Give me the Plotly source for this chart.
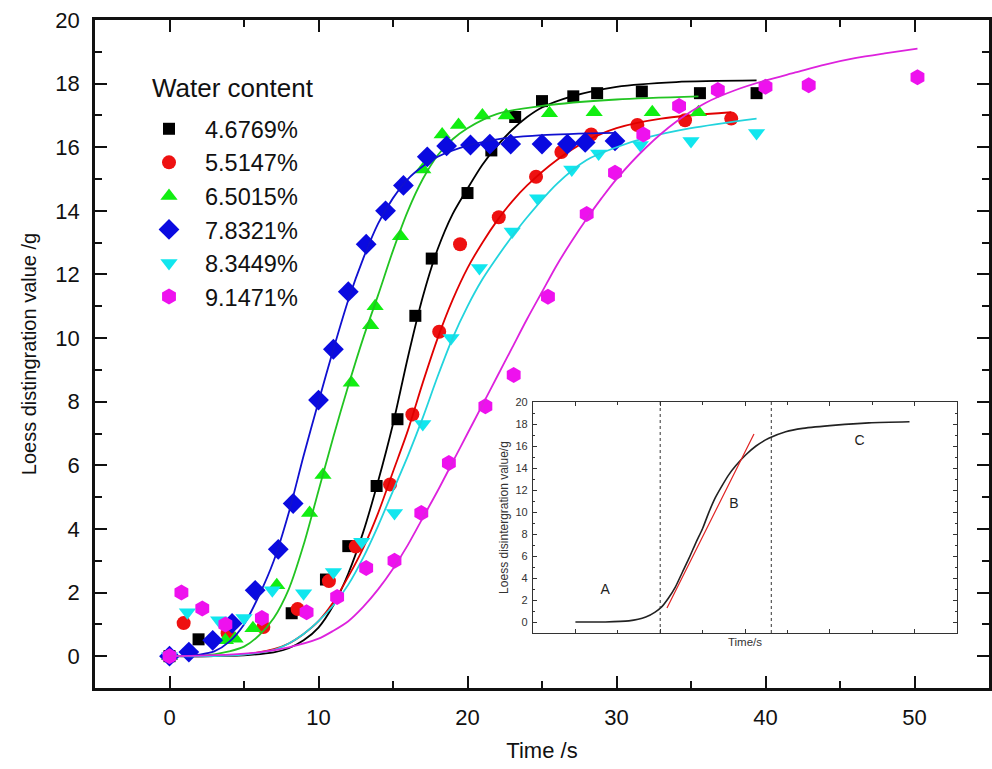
import plotly.graph_objects as go

# ---------------- data ----------------
series_names = ["4.6769%", "5.5147%", "6.5015%", "7.8321%", "8.3449%", "9.1471%"]
legend_title = "Water content"

black_x = [0, 1.95, 8.2, 10.5, 12.0, 13.9, 15.3, 16.5, 17.6, 20.0, 21.6, 23.2, 25.0, 27.1, 28.7, 31.7, 35.6, 39.4]
black_y = [0, 0.53, 1.35, 2.41, 3.46, 5.35, 7.45, 10.7, 12.5, 14.56, 15.9, 16.95, 17.45, 17.6, 17.7, 17.75, 17.7, 17.7]

red_x = [0, 0.95, 3.9, 6.3, 8.6, 10.7, 12.5, 14.8, 16.3, 18.1, 19.5, 22.1, 24.6, 26.3, 28.3, 31.4, 34.6, 37.7]
red_y = [0, 1.04, 0.72, 0.92, 1.48, 2.36, 3.45, 5.4, 7.6, 10.2, 12.95, 13.8, 15.07, 15.85, 16.4, 16.7, 16.85, 16.9]

green_x = [0, 3.75, 4.4, 5.6, 7.2, 9.4, 10.3, 12.2, 13.5, 13.8, 15.5, 17.0, 18.3, 19.4, 21.0, 22.6, 25.5, 28.5, 32.4, 35.5]
green_y = [0, 0.5, 0.55, 0.88, 2.23, 4.5, 5.7, 8.6, 10.4, 11.0, 13.2, 15.3, 16.4, 16.7, 17.0, 17.0, 17.07, 17.1, 17.1, 17.1]

blue_x = [0, 1.3, 2.9, 4.2, 5.75, 7.3, 8.3, 10.0, 11.0, 12.0, 13.2, 14.5, 15.7, 17.3, 18.6, 20.2, 21.5, 22.9, 25.0, 26.7, 27.9, 29.9]
blue_y = [0, 0.13, 0.5, 1.03, 2.07, 3.36, 4.8, 8.05, 9.65, 11.46, 12.95, 14.0, 14.8, 15.7, 16.04, 16.07, 16.1, 16.1, 16.1, 16.1, 16.15, 16.2]

cyan_x = [0, 1.2, 3.3, 5.0, 6.9, 9.0, 11.0, 12.9, 15.1, 17.0, 18.9, 20.8, 23.0, 24.7, 27.0, 28.8, 31.6, 35.0, 39.4]
cyan_y = [0, 1.38, 1.13, 1.2, 2.07, 1.98, 2.65, 3.6, 4.5, 7.3, 10.0, 12.2, 13.35, 14.4, 15.3, 15.8, 16.07, 16.2, 16.45]

mag_x = [0, 0.8, 2.2, 3.75, 6.2, 9.2, 11.25, 13.2, 15.1, 16.9, 18.75, 21.2, 23.1, 25.4, 28.0, 29.9, 31.8, 34.2, 36.8, 40.0, 42.9, 50.2]
mag_y = [0, 2.0, 1.5, 1.0, 1.2, 1.38, 1.86, 2.77, 3.0, 4.5, 6.07, 7.86, 8.84, 11.3, 13.9, 15.2, 16.4, 17.3, 17.8, 17.9, 17.95, 18.2]

# fitted curves
black_fit_x = [0, 3, 5, 7, 8, 9, 10, 11, 12, 13, 14, 15, 16, 17, 18, 19, 20, 21, 22, 23, 24, 25, 27, 30, 34, 39.4]
black_fit_y = [0, 0.0, 0.03, 0.12, 0.25, 0.5, 0.9, 1.6, 2.6, 3.9, 5.5, 7.3, 9.4, 11.3, 12.8, 13.9, 14.7, 15.45, 16.05, 16.55, 16.95, 17.25, 17.6, 17.9, 18.05, 18.1]

red_fit_x = [0, 3, 5, 7, 8, 9, 10, 11, 12, 13, 14, 15, 16, 17, 18, 19, 20, 21, 22, 23, 24, 26, 28, 30, 33, 37.7]
red_fit_y = [0, 0.0, 0.05, 0.22, 0.4, 0.7, 1.1, 1.7, 2.5, 3.4, 4.5, 5.8, 7.1, 8.6, 10.0, 11.2, 12.2, 13.0, 13.7, 14.3, 14.8, 15.6, 16.2, 16.6, 16.9, 17.1]

green_fit_x = [0, 2, 3, 4, 5, 6, 7, 8, 9, 10, 11, 12, 13, 14, 15, 16, 17, 18, 19, 20, 22, 25, 30, 35.5]
green_fit_y = [0, 0.02, 0.06, 0.15, 0.3, 0.65, 1.2, 2.1, 3.5, 5.2, 6.9, 8.5, 10.0, 11.35, 12.75, 14.0, 15.0, 15.75, 16.25, 16.6, 17.05, 17.3, 17.5, 17.6]

blue_fit_x = [0, 1, 2, 3, 4, 5, 6, 7, 8, 9, 10, 11, 12, 13, 14, 15, 16, 17, 18, 20, 22, 25, 29.9]
blue_fit_y = [0, 0.01, 0.05, 0.15, 0.45, 1.0, 1.9, 3.0, 4.5, 6.3, 8.0, 9.65, 11.2, 12.5, 13.6, 14.4, 15.0, 15.4, 15.7, 16.05, 16.25, 16.38, 16.45]

cyan_fit_x = [0, 3, 5, 7, 8, 9, 10, 11, 12, 13, 14, 15, 16, 17, 18, 19, 20, 21, 22, 23, 24, 26, 28, 30, 32, 35, 39.4]
cyan_fit_y = [0, 0.0, 0.05, 0.2, 0.4, 0.7, 1.1, 1.6, 2.25, 3.1, 4.1, 5.2, 6.3, 7.5, 8.8, 10.0, 11.0, 11.85, 12.55, 13.2, 13.8, 14.85, 15.6, 16.0, 16.3, 16.6, 16.9]

mag_fit_x = [0, 4, 6, 8, 10, 11, 12, 13, 14, 15, 16, 17, 18, 19, 20, 21, 22, 23, 24, 25, 26, 27, 28, 29, 30, 32, 34, 36, 38, 40, 42, 44, 46, 48, 50.2]
mag_fit_y = [0, 0.05, 0.12, 0.28, 0.55, 0.8, 1.1, 1.55, 2.1, 2.75, 3.5, 4.35, 5.2, 6.1, 7.0, 7.9, 8.8, 9.7, 10.6, 11.45, 12.3, 13.05, 13.75, 14.4, 15.0, 16.0, 16.8, 17.4, 17.8, 18.1, 18.35, 18.6, 18.8, 18.95, 19.1]

# inset curve and annotations
inset_x = [0, 3.1, 6.3, 8.3, 9.4, 10.2, 11.0, 11.8, 12.6, 13.4, 14.2, 15.0, 15.7, 16.5, 17.3, 18.1, 18.9, 20.1, 21.3, 22.8, 24.8, 26.8, 30.7, 34.6, 39.4]
inset_y = [0, 0.0, 0.1, 0.45, 0.9, 1.4, 2.2, 3.2, 4.5, 5.8, 7.2, 8.5, 9.9, 11.3, 12.4, 13.4, 14.2, 15.2, 16.0, 16.7, 17.3, 17.6, 17.9, 18.1, 18.2]
tangent_x = [10.8, 21.06]
tangent_y = [1.27, 17.1]
stage_lines_x = [10.0, 23.1]
stage_labels = ["A", "B", "C"]
stage_label_x = [3.5, 18.7, 33.5]
stage_label_y = [2.9, 10.7, 16.4]

x_ticks = [0, 10, 20, 30, 40, 50]
y_ticks = list(range(0, 21, 2))

# ---------------- figure ----------------
FONT = "Liberation Sans, Arial, sans-serif"
W, H = 992, 769
ML, MR, MT, MB = 95, 3, 20, 81
PW, PH = W - ML - MR, H - MT - MB


def px_x(p):  # window pixel -> paper x
    return (p - ML) / PW


def px_y(p):  # window pixel -> paper y
    return (H - MB - p) / PH


styles = [
    dict(symbol="square", color="#000000", line="#000000", size=12),
    dict(symbol="circle", color="#ee1111", line="#e00000", size=14),
    dict(symbol="triangle-up", color="#11ee11", line="#22c422", size=15),
    dict(symbol="diamond", color="#0a0ae0", line="#1010d0", size=16),
    dict(symbol="triangle-down", color="#11e6ee", line="#22d4dd", size=15),
    dict(symbol="hexagon", color="#ee11ee", line="#dd22dd", size=16),
]
pts = [(black_x, black_y), (red_x, red_y), (green_x, green_y),
       (blue_x, blue_y), (cyan_x, cyan_y), (mag_x, mag_y)]
fits = [(black_fit_x, black_fit_y), (red_fit_x, red_fit_y), (green_fit_x, green_fit_y),
        (blue_fit_x, blue_fit_y), (cyan_fit_x, cyan_fit_y), (mag_fit_x, mag_fit_y)]

fig = go.Figure()
for name, st, (px, py), (fx, fy) in zip(series_names, styles, pts, fits):
    fig.add_trace(go.Scatter(
        x=px, y=py, mode="markers", name=name,
        marker=dict(symbol=st["symbol"], color=st["color"], size=st["size"], line=dict(width=0)),
        xaxis="x", yaxis="y"))
    fig.add_trace(go.Scatter(
        x=fx, y=fy, mode="lines", line=dict(color=st["line"], width=1.8, shape="spline", smoothing=0.8),
        showlegend=False, hoverinfo="skip", xaxis="x", yaxis="y"))

# inset traces
fig.add_trace(go.Scatter(x=inset_x, y=inset_y, mode="lines",
                         line=dict(color="#222222", width=1.6, shape="spline", smoothing=0.8),
                         showlegend=False, xaxis="x2", yaxis="y2"))
fig.add_trace(go.Scatter(x=tangent_x, y=tangent_y, mode="lines",
                         line=dict(color="#e02020", width=1.2),
                         showlegend=False, xaxis="x2", yaxis="y2"))
fig.add_trace(go.Scatter(x=stage_label_x, y=stage_label_y, mode="text", text=stage_labels,
                         textfont=dict(family=FONT, size=14, color="#222222"),
                         showlegend=False, xaxis="x2", yaxis="y2"))

for sx in stage_lines_x:
    fig.add_shape(type="line", xref="x2", yref="y2 domain", x0=sx, x1=sx, y0=0, y1=1,
                  line=dict(color="#333333", width=1, dash="dot"))

fig.add_annotation(text=legend_title, xref="paper", yref="paper",
                   x=px_x(150), y=px_y(88), xanchor="left", yanchor="middle",
                   showarrow=False, font=dict(size=26, color="#111111", family=FONT))

axis_common = dict(showline=True, linecolor="#111111", mirror="ticks", ticks="inside",
                   showgrid=False, zeroline=False, tickcolor="#111111", automargin=False,
                   ticklabeloverflow="allow")

fig.update_layout(
    width=W, height=H,
    margin=dict(l=ML, r=MR, t=MT, b=MB),
    paper_bgcolor="white", plot_bgcolor="white",
    font=dict(family=FONT, color="#111111"),
    xaxis=dict(range=[-5, 55], tickvals=x_ticks, ticklen=12, tickwidth=2, linewidth=2.5,
               tickfont=dict(size=22), ticklabelstandoff=8,
               minor=dict(ticks="inside", dtick=5, ticklen=7, tickwidth=2, tickcolor="#111111"),
               title=dict(text="Time /s", font=dict(size=22), standoff=14),
               **axis_common),
    yaxis=dict(range=[-1, 20], tickvals=y_ticks, ticklen=12, tickwidth=2, linewidth=2.5,
               tickfont=dict(size=22), ticklabelstandoff=8,
               minor=dict(ticks="inside", dtick=1, ticklen=7, tickwidth=2, tickcolor="#111111"),
               title=dict(text="Loess distingration value /g", font=dict(size=20), standoff=14),
               **axis_common),
    xaxis2=dict(domain=[px_x(533), px_x(957)], anchor="y2", range=[-5, 45], tickvals=[0, 10, 20, 30, 40],
                showticklabels=False, ticklen=4, tickwidth=1, linewidth=1.2,
                minor=dict(ticks="inside", dtick=5, ticklen=3, tickwidth=1, tickcolor="#333333"),
                title=dict(text="Time/s", font=dict(size=11.5, color="#333333"), standoff=4),
                showline=True, linecolor="#333333", mirror="ticks", ticks="inside",
                showgrid=False, zeroline=False, tickcolor="#333333", automargin=False),
    yaxis2=dict(domain=[px_y(633), px_y(402)], anchor="x2", range=[-1, 20], tickvals=y_ticks,
                ticklen=4, tickwidth=1, linewidth=1.2,
                tickfont=dict(size=11, color="#333333"), ticklabelstandoff=2,
                minor=dict(ticks="inside", dtick=1, ticklen=2, tickwidth=1, tickcolor="#333333"),
                title=dict(text="Loess disintergration value/g", font=dict(size=12, color="#333333"), standoff=4),
                showline=True, linecolor="#333333", mirror="ticks", ticks="inside",
                showgrid=False, zeroline=False, tickcolor="#333333", automargin=False),
    legend=dict(x=px_x(133), y=px_y(107), xanchor="left", yanchor="top",
                bgcolor="rgba(0,0,0,0)", font=dict(size=23.5, color="#111111"),
                itemwidth=62, tracegroupgap=0),
    showlegend=True,
)

fig.write_html("out.html", config={"displayModeBar": False},
               post_script="document.body.style.margin='0';document.body.style.overflow='hidden';")
